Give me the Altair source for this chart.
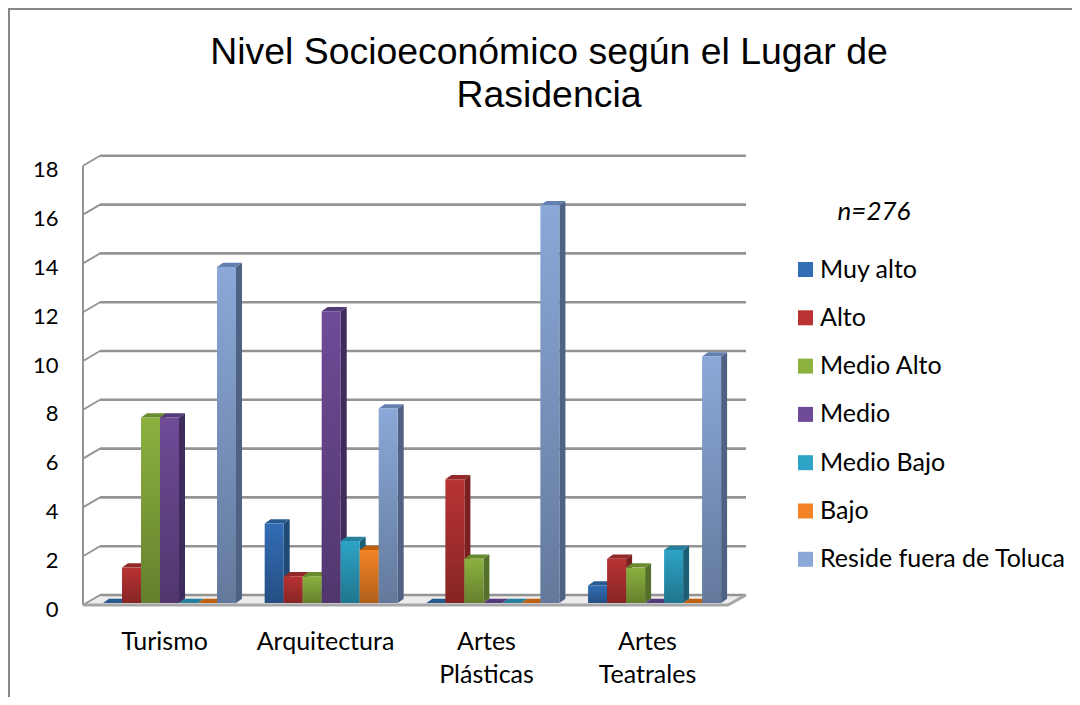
import altair as alt
import pandas as pd

TITLE = "Nivel Socioeconómico según el Lugar de\nRasidencia"
NOTE = "n=276"
categories = ["Turismo", "Arquitectura", "Artes Plásticas", "Artes Teatrales"]
category_lines = [["Turismo"], ["Arquitectura"], ["Artes", "Plásticas"], ["Artes", "Teatrales"]]
series = ["Muy alto", "Alto", "Medio Alto", "Medio", "Medio Bajo", "Bajo", "Reside fuera de Toluca"]

muy_alto = [0, 3.26, 0, 0.72]
alto = [1.45, 1.09, 5.07, 1.81]
medio_alto = [7.6, 1.09, 1.81, 1.45]
medio = [7.6, 11.96, 0, 0]
medio_bajo = [0, 2.54, 0, 2.17]
bajo = [0, 2.17, 0, 0]
reside = [13.77, 7.97, 16.3, 10.1]
values = [muy_alto, alto, medio_alto, medio, medio_bajo, bajo, reside]

front_colors = ["#336db5", "#b93333", "#8cb13f", "#6f4b97", "#2da3c5", "#f38325", "#8aa8d8"]
side_colors = ["#1f4a75", "#7a2020", "#55702a", "#3f2b5c", "#1d6075", "#a0520f", "#4f6284"]
top_colors = ["#28598f", "#932828", "#6a8a30", "#553a7a", "#24809c", "#bd6010", "#6480b0"]

# layout of the plot box, in pixels of the linear x scale
W, H = 663, 450
UNIT = 24.4          # pixels per value unit
LO = -2 / UNIT
HI = LO + H / UNIT
BAR, STEP, FIRST = 19, 161.7, 20
DX, DY = 6, 4.3 / UNIT
GRID_X0, GRID_X1 = 17, 663
FRONT_X1 = 645
BACK_DY = 8 / UNIT
FRONT_DY = -2 / UNIT
ticks = list(range(0, 20, 2))
centers = [81, 242, 403, 564]

xs = alt.Scale(domain=[0, W], range=[0, W], nice=False, zero=False)
ys = alt.Scale(domain=[LO, HI], nice=False, zero=False)
color_scale = alt.Scale(domain=series, range=front_colors)


def X(title=None, **kw):
    return alt.X("x:Q", scale=xs, title=None, **kw)


def Y(field="y", **kw):
    return alt.Y(f"{field}:Q", scale=ys, title=None, **kw)


# back wall grid lines
grid_df = pd.DataFrame({"x": [GRID_X0] * len(ticks), "x2": [GRID_X1] * len(ticks),
                        "y": [t + BACK_DY for t in ticks]})
grid = alt.Chart(grid_df).mark_rule(color="#939393", strokeWidth=2.6).encode(
    x=alt.X("x:Q", scale=xs, title=None), x2="x2:Q", y=Y())

# side wall connectors
conn = []
for t in ticks:
    conn.append({"x": 0, "y": t + FRONT_DY, "t": t})
    conn.append({"x": GRID_X0, "y": t + BACK_DY, "t": t})
connectors = alt.Chart(pd.DataFrame(conn)).mark_line(color="#939393", strokeWidth=1.8).encode(
    x=X(), y=Y(), detail="t:N")

# left wall upright carrying the value axis
wall_df = pd.DataFrame({"x": [0, 0], "y": [FRONT_DY, 18 + FRONT_DY]})
wall = alt.Chart(wall_df).mark_line(color="#939393", strokeWidth=2).encode(
    x=alt.X(
        "x:Q", scale=xs, title=None,
        axis=alt.Axis(
            values=centers, domain=False, ticks=False, grid=False,
            labelExpr=f"{category_lines}[indexof({centers}, datum.value)]",
            labelFont="Lato", labelFontSize=25, labelColor="#000000",
            labelPadding=24, labelLineHeight=33, labelBaseline="top", labelAngle=0,
            labelOverlap=False, labelFlush=False,
        ),
    ),
    y=alt.Y(
        "y:Q", scale=ys, title=None,
        axis=alt.Axis(
            values=ticks, domain=False, ticks=False, grid=False,
            labelFont="Lato", labelFontSize=22, labelColor="#000000",
            labelPadding=25, labelOffset=6, labelOverlap=False, labelFlush=False,
        ),
    ),
)

# floor
floor_df = pd.DataFrame({
    "x": [0, GRID_X0, FRONT_X1, GRID_X1],
    "y": [FRONT_DY, BACK_DY, BACK_DY, BACK_DY],
    "y2": [FRONT_DY, FRONT_DY, FRONT_DY, BACK_DY],
})
floor = alt.Chart(floor_df).mark_area(color="#ececec", interpolate="linear").encode(
    x=X(), y=Y(), y2="y2:Q")
floor_edge_df = pd.DataFrame({"x": [0, FRONT_X1, GRID_X1], "y": [FRONT_DY, FRONT_DY, BACK_DY]})
floor_edge = alt.Chart(floor_edge_df).mark_line(color="#a6a6a6", strokeWidth=3).encode(x=X(), y=Y())

layers = [floor, grid, connectors, wall, floor_edge]

shade = alt.LinearGradient(
    gradient="linear", x1=0, x2=0, y1=0, y2=1,
    stops=[alt.GradientStop(offset=0, color="rgba(0,0,0,0)"),
           alt.GradientStop(offset=1, color="rgba(0,0,0,0.28)")],
)

for s, name in enumerate(series):
    fronts, sides, tops = [], [], []
    for c, cat in enumerate(categories):
        v = values[s][c]
        x0 = FIRST + c * STEP + s * BAR
        x1 = x0 + BAR
        fronts.append({"x": x0, "x2": x1, "y": v, "y2": 0, "serie": name, "categoria": cat})
        sides += [
            {"x": x1, "y": v, "y2": 0, "c": c},
            {"x": x1 + DX, "y": v + DY, "y2": DY, "c": c},
        ]
        tops += [
            {"x": x0, "y": v, "y2": v, "c": c},
            {"x": x0 + DX, "y": v + DY, "y2": v, "c": c},
            {"x": x1, "y": v + DY, "y2": v, "c": c},
            {"x": x1 + DX, "y": v + DY, "y2": v + DY, "c": c},
        ]
    fdf = pd.DataFrame(fronts)
    side = alt.Chart(pd.DataFrame(sides)).mark_area(color=side_colors[s]).encode(
        x=X(), y=Y(), y2="y2:Q", detail="c:N")
    top = alt.Chart(pd.DataFrame(tops)).mark_area(color=top_colors[s]).encode(
        x=X(), y=Y(), y2="y2:Q", detail="c:N")
    front = alt.Chart(fdf[fdf["y"] > 0]).mark_rect().encode(
        x=X(), x2="x2:Q", y=Y(), y2="y2:Q",
        color=alt.Color(
            "serie:N", scale=color_scale,
            legend=alt.Legend(
                title=None, orient="none", legendX=710, legendY=102,
                symbolType="square", symbolSize=225, symbolStrokeWidth=0,
                labelFont="Lato", labelFontSize=25, labelColor="#000000",
                labelOffset=2, rowPadding=22.3, labelLimit=400, values=series,
            ),
        ),
    )
    gloss = alt.Chart(fdf[fdf["y"] > 0]).mark_rect(color=shade).encode(
        x=X(), x2="x2:Q", y=Y(), y2="y2:Q")
    layers += [side, top, front, gloss]

note = alt.Chart(pd.DataFrame({"t": [NOTE]})).mark_text(
    font="Lato", fontSize=26, fontStyle="italic", color="#000000"
).encode(x=alt.value(791), y=alt.value(57), text="t:N")

heading = alt.Chart(pd.DataFrame({"t": [TITLE]})).mark_text(
    font="Liberation Sans", fontSize=37.4, color="#000000", lineBreak="\n", lineHeight=43,
    align="center", baseline="alphabetic",
).encode(x=alt.value(466), y=alt.value(-91), text="t:N")

frame_top = alt.Chart(pd.DataFrame({"a": [0]})).mark_rule(color="#868686", strokeWidth=2).encode(
    x=alt.value(-75), x2=alt.value(989), y=alt.value(-146))
frame_left = alt.Chart(pd.DataFrame({"a": [0]})).mark_rule(color="#868686", strokeWidth=2).encode(
    x=alt.value(-74), y=alt.value(-147), y2=alt.value(542))

layers += [note, heading, frame_top, frame_left]

chart = alt.layer(*layers).properties(
    width=W, height=H,
    autosize="none",
    padding={"left": 75, "top": 147, "right": 326, "bottom": 92},
    background="#ffffff",
).configure_view(stroke=None)

chart.save("out.html", embed_options={"renderer": "svg", "actions": False})
